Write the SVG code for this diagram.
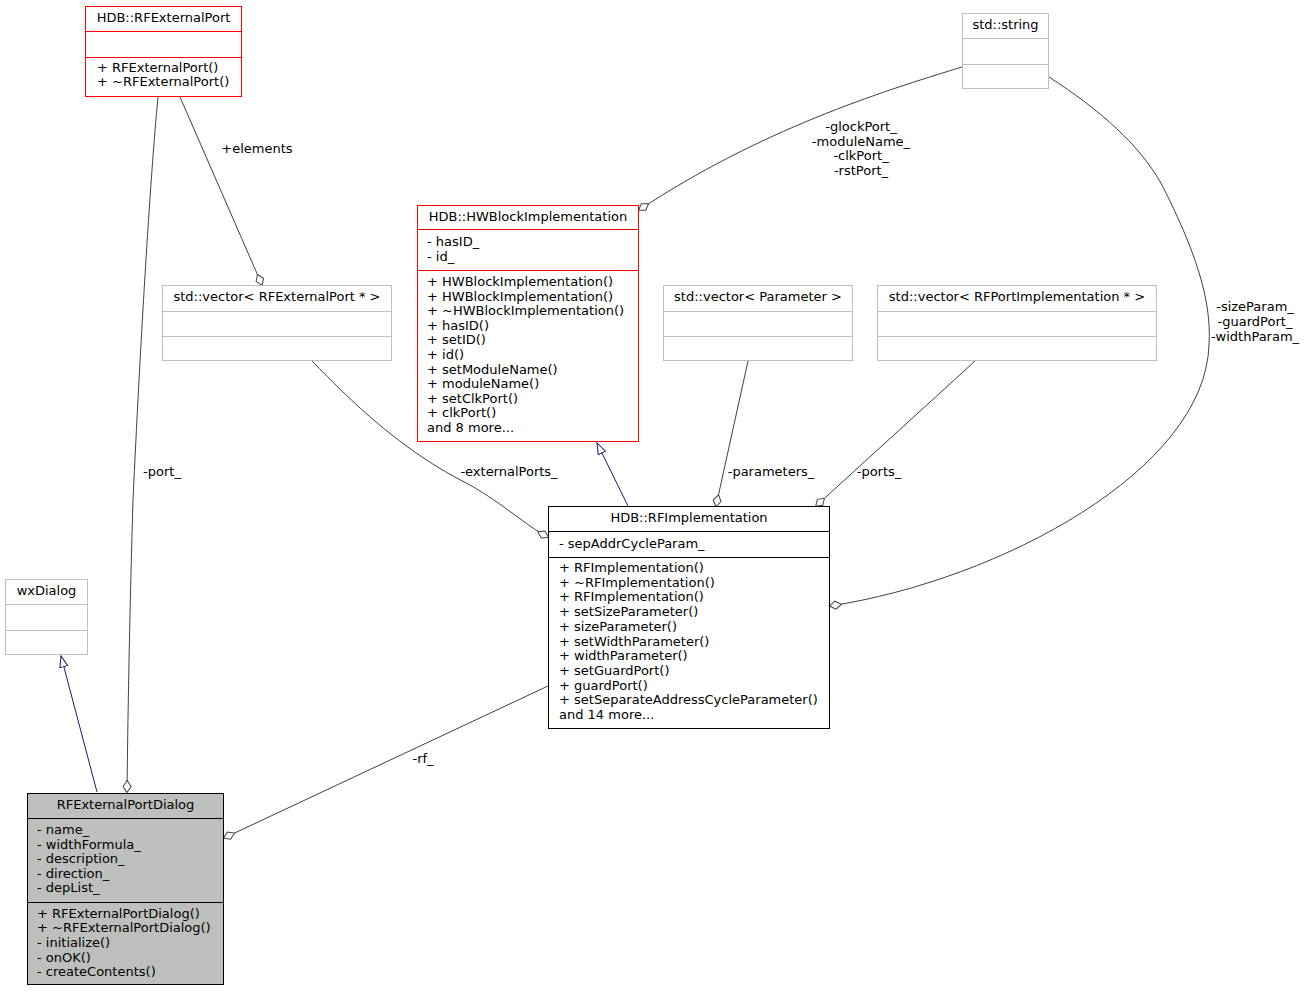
<svg xmlns="http://www.w3.org/2000/svg" width="1304" height="992" viewBox="0 0 1304 992">
<style>
text{font-family:"DejaVu Sans",sans-serif;font-size:13px;fill:#000}
.c{text-anchor:middle}
.box{fill:#fff}
.g{stroke:#bfbfbf}
.r{stroke:#ff0000}
.k{stroke:#000}
.e{fill:none;stroke:#404040;stroke-width:1}
.i{fill:none;stroke:#191970;stroke-width:1}
</style>
<defs>
<marker id="dia" markerUnits="userSpaceOnUse" markerWidth="14" markerHeight="10" refX="12" refY="4.5" orient="auto" viewBox="0 0 14 9">
<path d="M0.5,4.5 L6.5,0.5 L12.5,4.5 L6.5,8.5 Z" fill="#fff" stroke="#404040"/>
</marker>
<marker id="tri" markerUnits="userSpaceOnUse" markerWidth="13" markerHeight="10" refX="11.5" refY="4.5" orient="auto" viewBox="0 0 13 9">
<path d="M0.5,0.5 L11.5,4.5 L0.5,8.5 Z" fill="#fff" stroke="#191970"/>
</marker>
</defs>
<rect width="1304" height="992" fill="#fff"/>

<g id="connectors">
<path class="i" d="M97,792 L61,656" marker-end="url(#tri)"/>
<path class="e" d="M158,97 C150,180 140,350 133,500 C130,600 128,700 127,792" marker-end="url(#dia)"/>
<text class="c" x="162" y="476">-port_</text>
<path class="e" d="M180,97 L262,285" marker-end="url(#dia)"/>
<text class="c" x="257" y="153">+elements</text>
<path class="e" d="M312,361 C350,400 400,450 470,485 C505,505 525,525 548,537" marker-end="url(#dia)"/>
<text class="c" x="509" y="476">-externalPorts_</text>
<path class="i" d="M628,506 L597,443" marker-end="url(#tri)"/>
<path class="e" d="M962,67 C880,92 760,130 639,210" marker-end="url(#dia)"/>
<text class="c" x="861" y="131">-glockPort_</text>
<text class="c" x="861" y="146">-moduleName_</text>
<text class="c" x="861" y="160">-clkPort_</text>
<text class="c" x="861" y="175">-rstPort_</text>
<path class="e" d="M748,361 L716,506" marker-end="url(#dia)"/>
<text class="c" x="771" y="476">-parameters_</text>
<path class="e" d="M975,361 L816,506" marker-end="url(#dia)"/>
<text class="c" x="879" y="476">-ports_</text>
<path class="e" d="M1049,77 C1100,110 1140,145 1162,185 C1195,250 1212,300 1209,345 C1205,470 1000,580 830,606" marker-end="url(#dia)"/>
<text class="c" x="1255" y="311">-sizeParam_</text>
<text class="c" x="1255" y="326">-guardPort_</text>
<text class="c" x="1255" y="341">-widthParam_</text>
<path class="e" d="M548,686 L224,838" marker-end="url(#dia)"/>
<text class="c" x="423" y="763">-rf_</text>
</g>

<g id="RFExternalPort">
<rect class="box r" x="85.5" y="6.5" width="156" height="90"/>
<path class="r" d="M85.5,31.5 H241.5 M85.5,57.5 H241.5"/>
<text class="c" x="163.5" y="22">HDB::RFExternalPort</text>
<text x="97" y="72">+ RFExternalPort()</text>
<text x="97" y="86">+ ~RFExternalPort()</text>
</g>

<g id="string">
<rect class="box g" x="962.5" y="13.5" width="86" height="75"/>
<path class="g" d="M962.5,38.5 H1048.5 M962.5,64.5 H1048.5"/>
<text class="c" x="1005.5" y="29">std::string</text>
</g>

<g id="HWBlockImplementation">
<rect class="box r" x="417.5" y="205.5" width="221" height="236"/>
<path class="r" d="M417.5,229.5 H638.5 M417.5,270.5 H638.5"/>
<text class="c" x="528" y="221">HDB::HWBlockImplementation</text>
<text x="427" y="246">- hasID_</text>
<text x="427" y="260.5">- id_</text>
<text x="427" y="286">+ HWBlockImplementation()</text>
<text x="427" y="300.6">+ HWBlockImplementation()</text>
<text x="427" y="315.2">+ ~HWBlockImplementation()</text>
<text x="427" y="329.8">+ hasID()</text>
<text x="427" y="344.4">+ setID()</text>
<text x="427" y="359">+ id()</text>
<text x="427" y="373.6">+ setModuleName()</text>
<text x="427" y="388.2">+ moduleName()</text>
<text x="427" y="402.8">+ setClkPort()</text>
<text x="427" y="417.4">+ clkPort()</text>
<text x="427" y="432">and 8 more...</text>
</g>

<g id="vectorRFExternalPort">
<rect class="box g" x="162.5" y="285.5" width="229" height="75"/>
<path class="g" d="M162.5,311.5 H391.5 M162.5,336.5 H391.5"/>
<text class="c" x="277" y="301">std::vector&lt; RFExternalPort * &gt;</text>
</g>

<g id="vectorParameter">
<rect class="box g" x="663.5" y="285.5" width="189" height="75"/>
<path class="g" d="M663.5,311.5 H852.5 M663.5,336.5 H852.5"/>
<text class="c" x="758" y="301">std::vector&lt; Parameter &gt;</text>
</g>

<g id="vectorRFPortImplementation">
<rect class="box g" x="877.5" y="285.5" width="279" height="75"/>
<path class="g" d="M877.5,311.5 H1156.5 M877.5,336.5 H1156.5"/>
<text class="c" x="1017" y="301">std::vector&lt; RFPortImplementation * &gt;</text>
</g>

<g id="RFImplementation">
<rect class="box k" x="548.5" y="506.5" width="281" height="222"/>
<path class="k" d="M548.5,531.5 H829.5 M548.5,557.5 H829.5"/>
<text class="c" x="689" y="522">HDB::RFImplementation</text>
<text x="559" y="547.5">- sepAddrCycleParam_</text>
<text x="559" y="572">+ RFImplementation()</text>
<text x="559" y="586.7">+ ~RFImplementation()</text>
<text x="559" y="601.4">+ RFImplementation()</text>
<text x="559" y="616.1">+ setSizeParameter()</text>
<text x="559" y="630.8">+ sizeParameter()</text>
<text x="559" y="645.5">+ setWidthParameter()</text>
<text x="559" y="660.2">+ widthParameter()</text>
<text x="559" y="674.9">+ setGuardPort()</text>
<text x="559" y="689.6">+ guardPort()</text>
<text x="559" y="704.3">+ setSeparateAddressCycleParameter()</text>
<text x="559" y="719">and 14 more...</text>
</g>

<g id="wxDialog">
<rect class="box g" x="5.5" y="579.5" width="82" height="75"/>
<path class="g" d="M5.5,604.5 H87.5 M5.5,630.5 H87.5"/>
<text class="c" x="46.5" y="595">wxDialog</text>
</g>

<g id="RFExternalPortDialog">
<rect x="27.5" y="793.5" width="196" height="191" fill="#bdbfbc" stroke="#000"/>
<path class="k" d="M27.5,818.5 H223.5 M27.5,902.5 H223.5"/>
<text class="c" x="125.5" y="809">RFExternalPortDialog</text>
<text x="37" y="834">- name_</text>
<text x="37" y="848.6">- widthFormula_</text>
<text x="37" y="863.2">- description_</text>
<text x="37" y="877.8">- direction_</text>
<text x="37" y="892.4">- depList_</text>
<text x="37" y="917.5">+ RFExternalPortDialog()</text>
<text x="37" y="932.2">+ ~RFExternalPortDialog()</text>
<text x="37" y="946.9">- initialize()</text>
<text x="37" y="961.6">- onOK()</text>
<text x="37" y="976.3">- createContents()</text>
</g>
</svg>
